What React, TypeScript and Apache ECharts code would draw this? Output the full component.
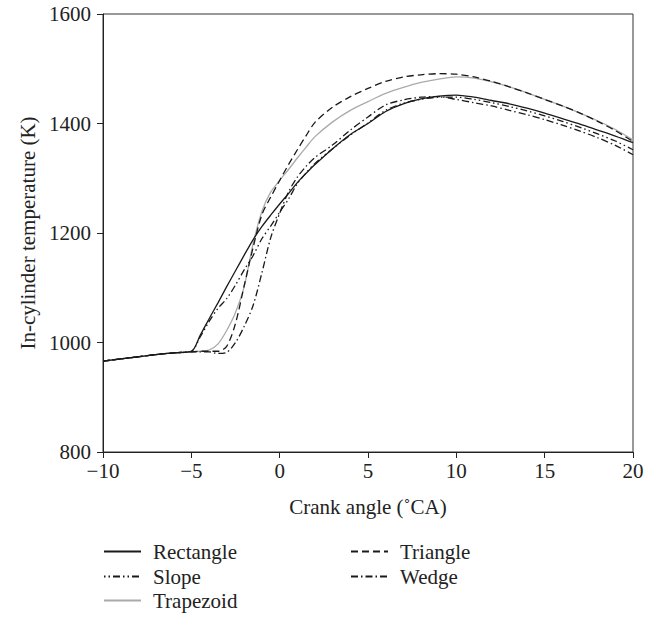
import React, { useEffect, useRef } from "react";
import * as echarts from "echarts";

const crankAngle = [-10, -9, -8, -7, -6, -5, -4.5, -4, -3.5, -3, -2.5, -2, -1.5, -1, -0.5, 0, 0.5, 1, 1.5, 2, 3, 4, 5, 6, 7, 8, 9, 10, 11, 12, 13, 14, 15, 16, 17, 18, 19, 20];

const rectangle = [966, 970, 974, 978, 981, 984, 1013, 1043, 1072, 1102, 1131, 1160, 1188, 1212, 1233, 1253, 1272, 1292, 1309, 1325, 1354, 1380, 1400, 1422, 1436, 1445, 1450, 1452, 1448, 1442, 1436, 1428, 1419, 1409, 1399, 1388, 1377, 1365];
const slope = [966, 970, 974, 978, 981, 984, 1010, 1038, 1062, 1080, 1105, 1133, 1159, 1190, 1213, 1238, 1262, 1290, 1310, 1327, 1354, 1379, 1401, 1424, 1437, 1444, 1448, 1448, 1444, 1438, 1431, 1423, 1414, 1404, 1393, 1381, 1368, 1352];
const trapezoid = [966, 970, 974, 978, 981, 983, 984, 986, 997, 1022, 1055, 1103, 1181, 1240, 1275, 1296, 1316, 1337, 1357, 1376, 1403, 1424, 1440, 1455, 1466, 1475, 1481, 1485, 1483, 1476, 1467, 1456, 1444, 1432, 1419, 1405, 1389, 1370];
const triangle = [966, 970, 974, 978, 981, 983, 984, 984, 984, 993, 1035, 1105, 1174, 1234, 1266, 1296, 1325, 1352, 1378, 1402, 1430, 1449, 1464, 1477, 1485, 1489, 1491, 1490, 1485, 1477, 1467, 1456, 1444, 1432, 1419, 1404, 1387, 1367];
const wedge = [966, 970, 974, 978, 981, 983, 983, 983, 980, 982, 1000, 1030, 1068, 1128, 1192, 1236, 1275, 1302, 1322, 1338, 1361, 1388, 1412, 1434, 1443, 1448, 1449, 1444, 1438, 1432, 1424, 1416, 1407, 1397, 1386, 1374, 1360, 1343];

const seriesNames = ["Rectangle", "Slope", "Trapezoid", "Triangle", "Wedge"];
const seriesValues = [rectangle, slope, trapezoid, triangle, wedge];

const FONT = "Liberation Serif";
const FS = 21;

export default function App() {
  const ref = useRef<HTMLDivElement>(null);
  useEffect(() => {
    const chart = echarts.init(ref.current!, null, { renderer: "svg" });
    const styles: any[] = [
      { color: "#1a1a1a", type: "solid" },
      { color: "#1a1a1a", type: [1.5, 3, 1.5, 3, 7, 3] },
      { color: "#aaaaaa", type: "solid" },
      { color: "#1a1a1a", type: [7, 4] },
      { color: "#1a1a1a", type: [7, 3, 1.5, 3] },
    ];
    const legendPos: [number, number][] = [
      [103, 541],
      [103, 566],
      [103, 590],
      [350, 541],
      [350, 566],
    ];
    const option: any = {
      animation: false,
      backgroundColor: "#ffffff",
      grid: {
        left: 103,
        right: 20,
        top: 14,
        bottom: 166,
        show: true,
        borderColor: "#333",
        borderWidth: 1,
      },
      legend: seriesNames.map((n, i) => ({
        data: [n],
        left: legendPos[i][0],
        top: legendPos[i][1],
        padding: 0,
        itemWidth: 37,
        itemHeight: 14,
        itemStyle: { opacity: 0 },
        textStyle: { fontFamily: FONT, fontSize: FS, color: "#222", padding: [0, 0, 0, 7] },
        selectedMode: false,
      })),
      xAxis: {
        type: "value",
        min: -10,
        max: 20,
        interval: 5,
        name: "Crank angle (˚CA)",
        nameLocation: "middle",
        nameGap: 44,
        nameTextStyle: { fontFamily: FONT, fontSize: FS, color: "#222" },
        axisLine: { show: true, onZero: false, lineStyle: { color: "#222", width: 1 } },
        axisTick: { show: true, inside: false, length: 6, lineStyle: { color: "#222" } },
        axisLabel: {
          fontFamily: FONT,
          fontSize: FS,
          color: "#222",
          margin: 8,
          formatter: (v: number) => (v < 0 ? "\u2212" + Math.abs(v) : String(v)),
        },
        splitLine: { show: false },
      },
      yAxis: {
        type: "value",
        min: 800,
        max: 1600,
        interval: 200,
        name: "In-cylinder temperature (K)",
        nameLocation: "middle",
        nameGap: 63,
        nameTextStyle: { fontFamily: FONT, fontSize: FS, color: "#222" },
        axisLine: { show: true, onZero: false, lineStyle: { color: "#222", width: 1 } },
        axisTick: { show: true, inside: false, length: 6, lineStyle: { color: "#222" } },
        axisLabel: {
          fontFamily: FONT,
          fontSize: FS,
          color: "#222",
          margin: 12,
          formatter: (v: number) => String(v),
        },
        splitLine: { show: false },
      },
      series: seriesNames.map((n, i) => ({
        name: n,
        type: "line",
        symbol: "none",
        smooth: 0.3,
        data: crankAngle.map((x, j) => [x, seriesValues[i][j]]),
        lineStyle: { width: 1.3, color: styles[i].color, type: styles[i].type },
        itemStyle: { color: styles[i].color },
        z: i === 2 ? 1 : 2,
      })),
    };
    chart.setOption(option);
    return () => chart.dispose();
  }, []);
  return <div ref={ref} style={{ position: "fixed", left: 0, top: 0, width: 653, height: 618 }} />;
}
